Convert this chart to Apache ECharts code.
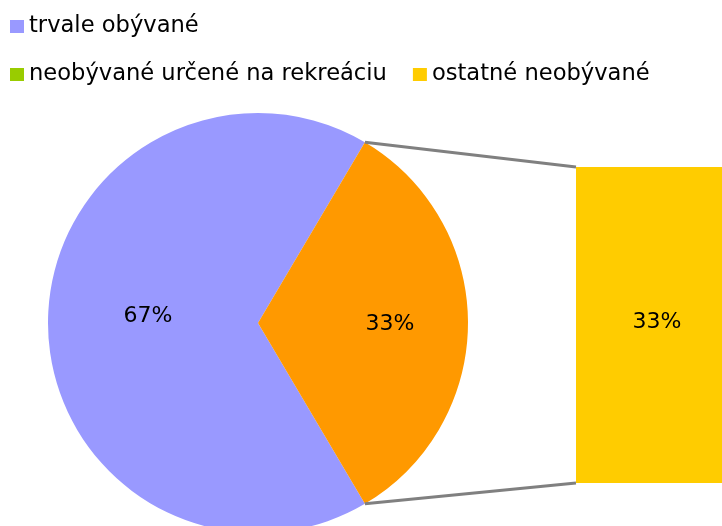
<!DOCTYPE html>
<html>
<head>
<meta charset="utf-8">
<script src="https://cdn.jsdelivr.net/npm/echarts@6/dist/echarts.min.js"></script>
<style>html,body{margin:0;padding:0;background:#fff}#c{width:722px;height:526px}</style>
</head>
<body>
<div id="c"></div>
<script>
// Data
var pieNames = ['trvale obývané', 'ostatné'];
var pieValues = [67, 33];
var barNames = ['neobývané určené na rekreáciu', 'ostatné neobývané'];
var barValues = [0, 33];
var barCategory = ['ostatné'];

var FONT = 'DejaVu Sans, Verdana, sans-serif';
var PIE_CENTER = [258, 323], PIE_R = 210;
var GRID = {left: 576, top: 167, width: 162, bottom: 43};
var total = pieValues.reduce(function(a,b){return a+b;},0);
var otherAngle = pieValues[1] / total * 360;
// purple starts at -otherAngle/2 and runs clockwise, so the orange slice is centred on the right
var startAngle = (360 - otherAngle / 2) % 360;

var pieColors = ['#9999FF', '#FF9900'];
var barColors = ['#99CC00', '#FFCC00'];
var pieLabelOffsets = [[-2, -7], [24, 1]];

var chart = echarts.init(document.getElementById('c'), null, {renderer: 'canvas'});
var legendText = {fontSize: 22.6, fontFamily: FONT, color: '#000', lineHeight: 23};
var option = {
  animation: false,
  textStyle: {fontFamily: FONT},
  legend: [{
    data: [pieNames[0]],
    left: 10, top: 15, padding: 0,
    icon: 'rect', itemWidth: 14, itemHeight: 13, itemGap: 26,
    textStyle: legendText,
    selectedMode: false
  }, {
    data: barNames,
    left: 10, top: 63, padding: 0,
    icon: 'rect', itemWidth: 14, itemHeight: 13, itemGap: 26,
    textStyle: legendText,
    selectedMode: false
  }],
  grid: {left: GRID.left, top: GRID.top, width: GRID.width, bottom: GRID.bottom, containLabel: false},
  xAxis: {type: 'category', data: barCategory, show: false},
  yAxis: {type: 'value', min: 0, max: barValues[0] + barValues[1], show: false},
  series: [{
    type: 'pie',
    center: PIE_CENTER,
    radius: PIE_R,
    startAngle: startAngle,
    clockwise: true,
    silent: true,
    data: pieNames.map(function(n, i){
      return {name: n, value: pieValues[i], itemStyle: {color: pieColors[i]},
        label: {offset: pieLabelOffsets[i]}};
    }),
    label: {
      show: true, position: 'inside', color: '#000', fontSize: 22, fontFamily: FONT,
      formatter: function(p){ return Math.round(p.value / total * 100) + '%'; }
    },
    labelLine: {show: false}
  }].concat(barNames.map(function(n, i){
    return {
      type: 'bar', name: n, stack: 'b', barWidth: '100%', silent: true,
      itemStyle: {color: barColors[i]},
      data: [barValues[i]],
      label: {
        show: barValues[i] > 0, position: 'inside', offset: [8, -3],
        color: '#000', fontSize: 22, fontFamily: FONT,
        formatter: function(p){ return Math.round(p.value / total * 100) + '%'; }
      }
    };
  }))
};
chart.setOption(option);

// connector lines computed from the pie geometry and the bar axis
var half = otherAngle / 2 * Math.PI / 180;
var pTop = [PIE_CENTER[0] + PIE_R * Math.cos(half), PIE_CENTER[1] - PIE_R * Math.sin(half)];
var pBot = [PIE_CENTER[0] + PIE_R * Math.cos(half), PIE_CENTER[1] + PIE_R * Math.sin(half)];
var yTop = chart.convertToPixel({yAxisIndex: 0}, barValues[0] + barValues[1]);
var yBot = chart.convertToPixel({yAxisIndex: 0}, 0);
var xBar = GRID.left;
chart.setOption({
  graphic: [
    {type: 'line', shape: {x1: pTop[0], y1: pTop[1], x2: xBar, y2: yTop}, style: {stroke: '#808080', lineWidth: 3}, z: 10},
    {type: 'line', shape: {x1: pBot[0], y1: pBot[1], x2: xBar, y2: yBot}, style: {stroke: '#808080', lineWidth: 3}, z: 10}
  ]
});
</script>
</body>
</html>
